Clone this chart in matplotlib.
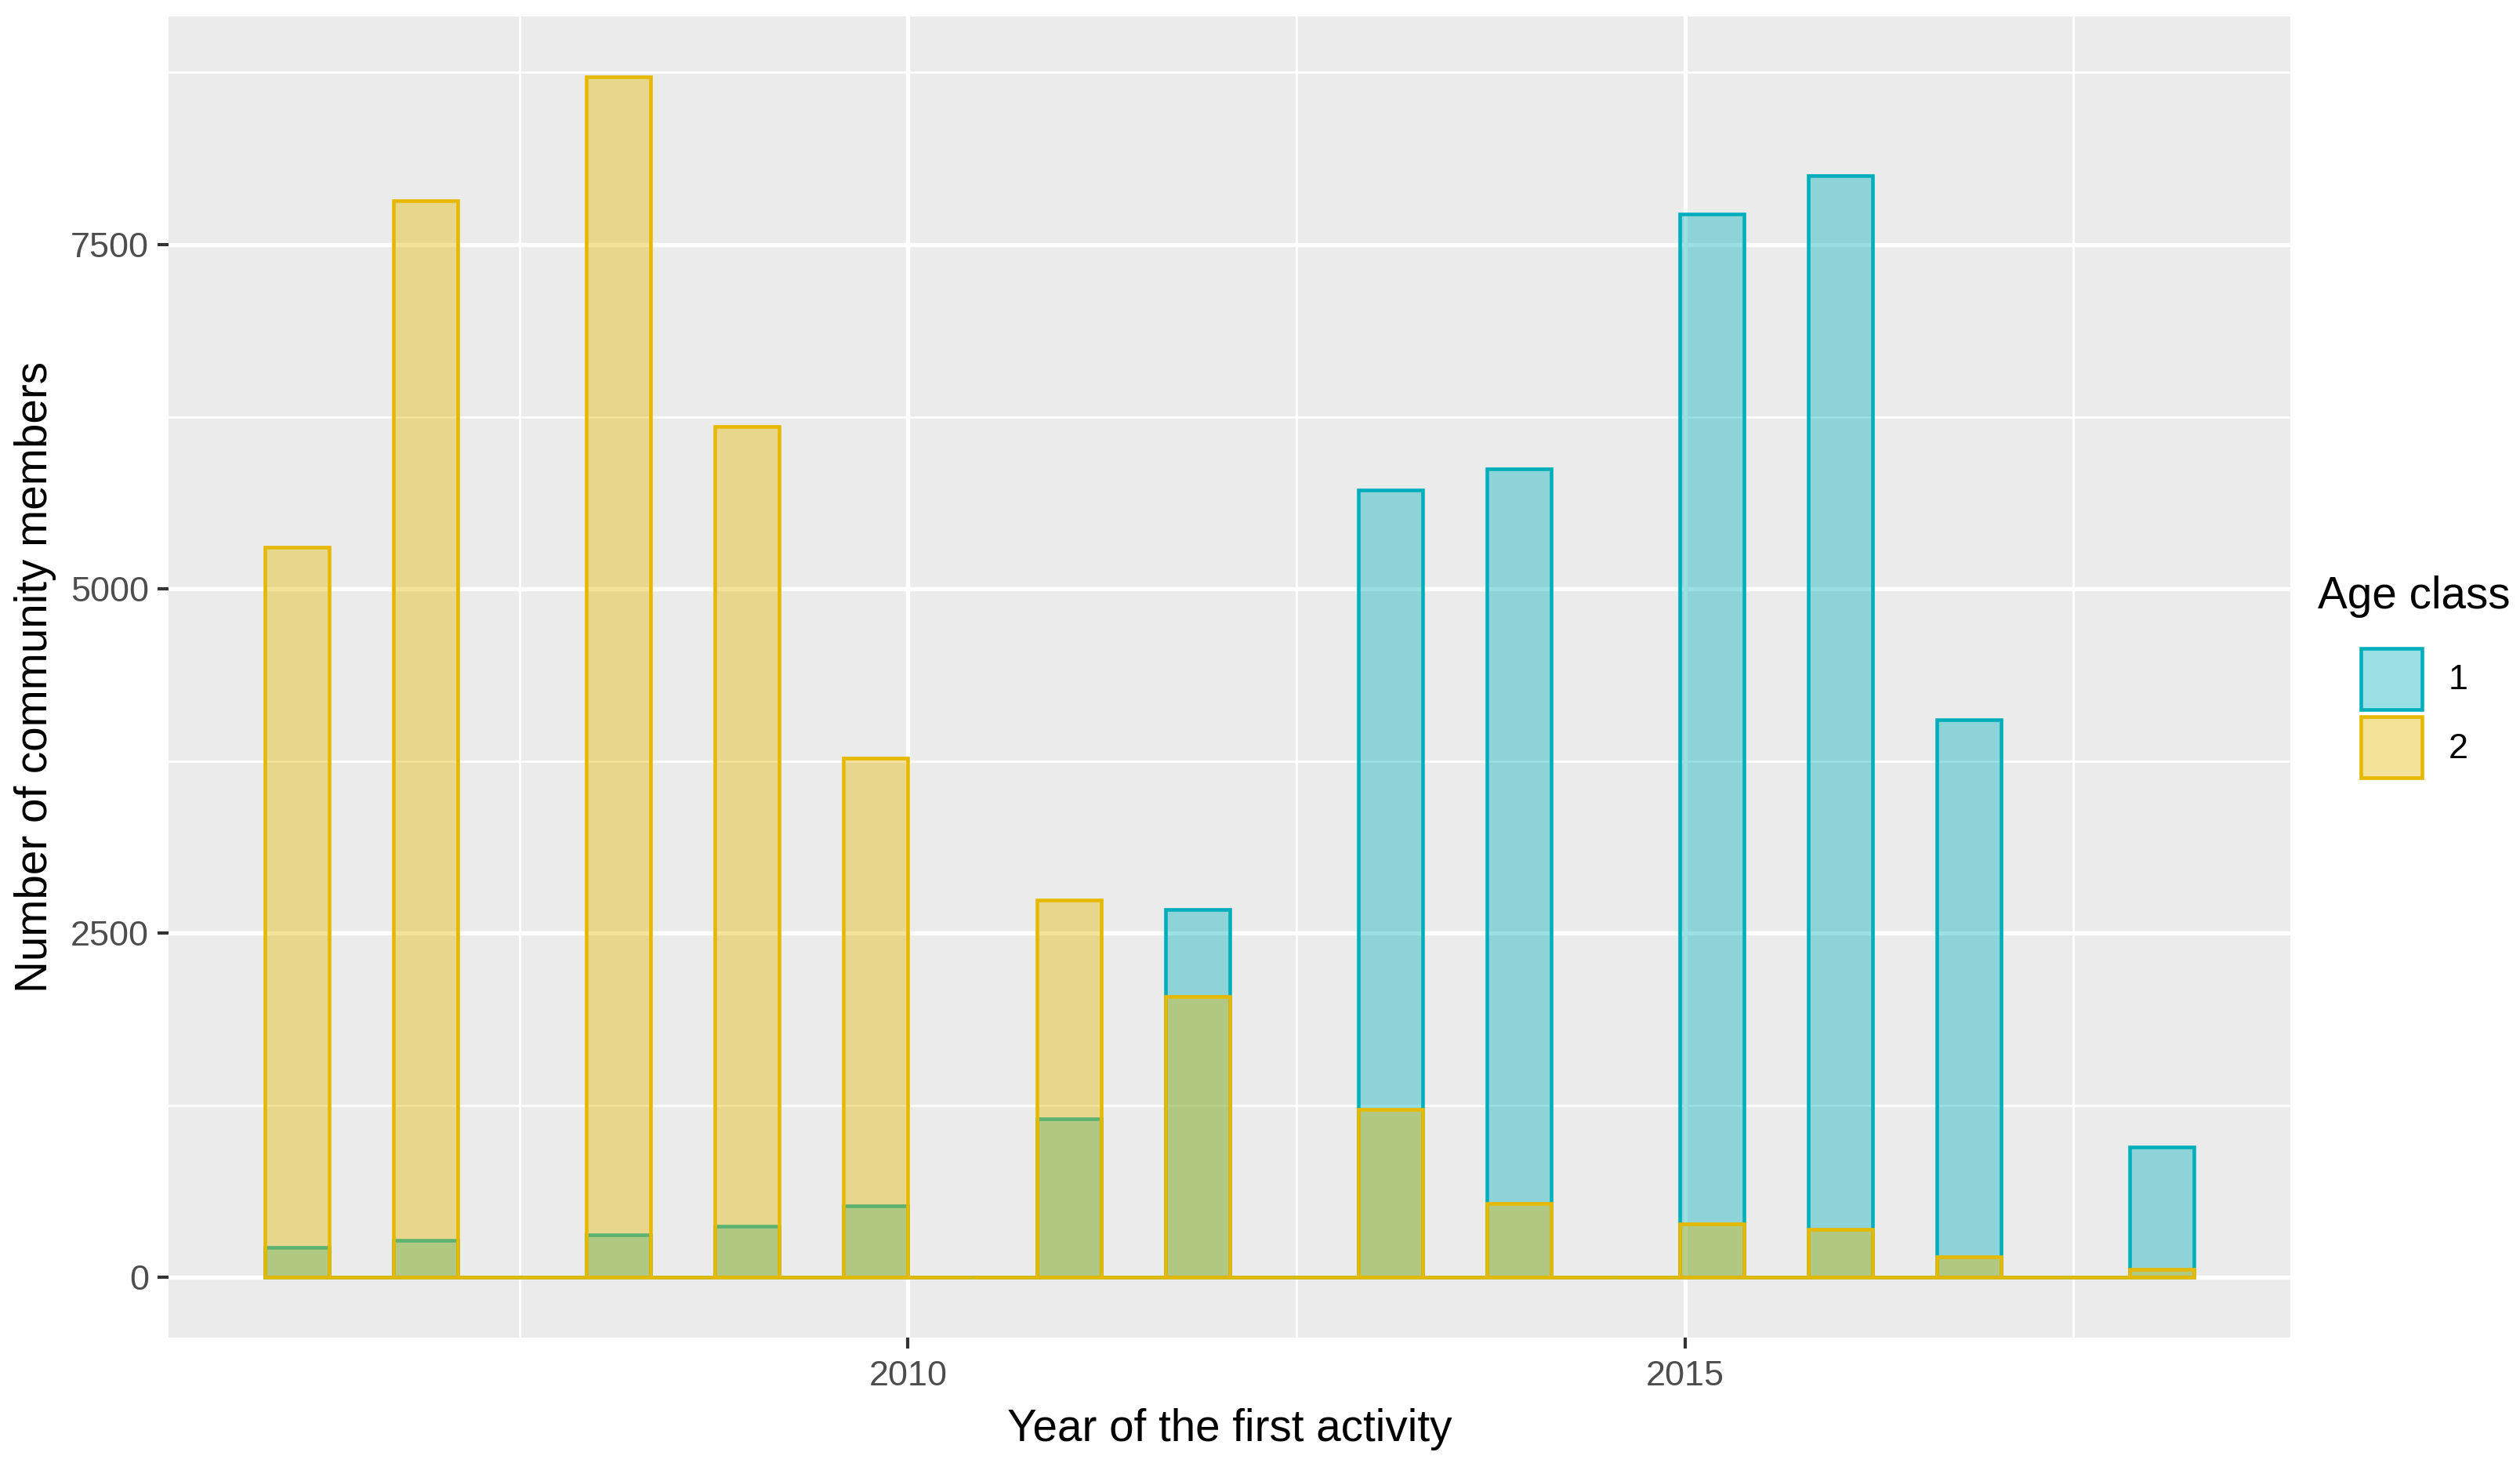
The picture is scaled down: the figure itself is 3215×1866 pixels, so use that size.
import numpy as np
import matplotlib
matplotlib.use("Agg")
import matplotlib.pyplot as plt
from matplotlib.colors import to_rgba
from matplotlib.patches import Patch

plt.rcParams["font.family"] = ["Liberation Sans", "DejaVu Sans"]

# first-activity year and number of members per age class
years = [2006, 2007, 2008, 2009, 2010, 2011, 2012, 2013, 2014, 2015, 2016, 2017, 2018]
age_class_1 = [220, 270, 310, 370, 520, 1150, 2670, 5720, 5870, 7720, 8000, 4050, 950]
age_class_2 = [5300, 7820, 8720, 6180, 3770, 2740, 2040, 1220, 540, 390, 350, 150, 60]
class_labels = ["1", "2"]
x_ticks = [2010, 2015]
y_ticks = [0, 2500, 5000, 7500]

N_BINS = 30
BOUNDARY = 2010
TEAL = "#00AFBB"
GOLD = "#E7B800"
ALPHA = 0.4

# ggplot-style binning (30 bins, right-closed)
yrs = np.array(years, dtype=float)
width = (yrs.max() - yrs.min()) / (N_BINS - 1)
origin = BOUNDARY + np.floor((yrs.min() - BOUNDARY) / width) * width
edges = origin + width * np.arange(N_BINS + 1)
idx = np.digitize(yrs, edges + 1e-7 * width, right=True) - 1

h1 = np.zeros(N_BINS)
h2 = np.zeros(N_BINS)
np.add.at(h1, idx, age_class_1)
np.add.at(h2, idx, age_class_2)

W, H, DPI = 3215, 1866, 300
fig = plt.figure(figsize=(W / DPI, H / DPI), dpi=DPI)
ax = fig.add_axes([0.0669, 0.0857, 0.842, 0.903])
ax.set_facecolor("#EBEBEB")
for s in ax.spines.values():
    s.set_visible(False)

for h, col in ((h1, TEAL), (h2, GOLD)):
    ax.bar(edges[:-1], h, width=width, align="edge",
           facecolor=to_rgba(col, ALPHA), edgecolor=col, linewidth=1.1, zorder=2)

span = edges[-1] - edges[0]
ax.set_xlim(edges[0] - 0.05 * span, edges[-1] + 0.05 * span)
ymax = max(h1.max(), h2.max())
ax.set_ylim(-0.05 * ymax, 1.05 * ymax)

ax.set_xticks(x_ticks)
ax.set_xticks([t + 2.5 for t in [2005] + x_ticks], minor=True)
ax.set_yticks(y_ticks)
ax.set_yticks([t + 1250 for t in y_ticks], minor=True)
ax.grid(which="major", color="white", linewidth=1.3)
ax.grid(which="minor", color="white", linewidth=0.65)
ax.set_axisbelow(True)
ax.tick_params(which="major", length=3.4, width=1.0, color="#333333",
               labelcolor="#4D4D4D", labelsize=10.8)
ax.tick_params(axis="x", which="major", pad=3.5)
ax.tick_params(axis="y", which="major", pad=2.6)
ax.tick_params(which="minor", length=0)

ax.set_xlabel("Year of the first activity", fontsize=13.6, va="center")
ax.set_ylabel("Number of community members", fontsize=13.6, va="center")
ax.xaxis.set_label_coords(0.5, -0.0694)
ax.yaxis.set_label_coords(-0.0628, 0.5)

# legend: title as separate text so the gap to the keys matches ggplot
fig.text(0.958, 0.5923, "Age class", fontsize=13.6, ha="center", va="center")
handles = [Patch(facecolor=to_rgba(c, ALPHA), edgecolor=c, linewidth=1.1)
           for c in (TEAL, GOLD)]
fig.legend(handles, class_labels, loc="center",
           bbox_to_anchor=(0.958, 0.5126), frameon=False, fontsize=10.8,
           handlelength=1.73, handleheight=2.29, borderpad=0,
           labelspacing=0.22, handletextpad=0.75)

fig.savefig("out.png", dpi=DPI)
